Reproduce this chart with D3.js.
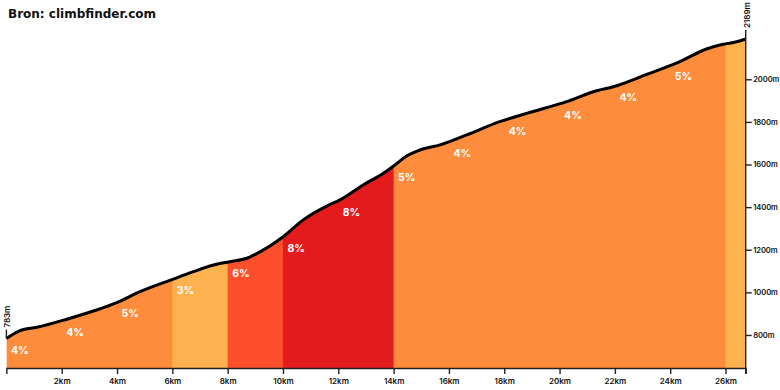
<!DOCTYPE html>
<html>
<head>
<meta charset="utf-8">
<script src="https://cdn.jsdelivr.net/npm/d3@7"></script>
<style>
  body { margin: 0; background: #fff; }
  svg { display: block; }
  .title { font-family: "DejaVu Sans", sans-serif; font-weight: bold; font-size: 12px; fill: #111; }
  .axis text { font-family: Inter, "Open Sans", sans-serif; font-weight: 600; font-size: 8px; fill: #111; }
  .yaxis text { font-size: 7.6px; letter-spacing: -0.1px; }
  .axis path, .axis line { stroke: #222; stroke-width: 1.4px; }
  .grade { font-family: Inter, "Open Sans", sans-serif; font-weight: 700; font-size: 10.5px; fill: #fff; }
  .mark { font-family: Inter, "Open Sans", sans-serif; font-weight: 600; font-size: 8px; fill: #111; }
</style>
</head>
<body>
<div id="chart"></div>
<script>
// elevation profile (km / m)
const distKm = [0, 0.49, 1.10, 2.18, 3.26, 3.99, 4.83, 6.03, 6.76, 7.36, 8.08, 8.69, 9.17,
  10.01, 10.73, 11.58, 12.06, 12.90, 13.63, 14.05, 14.47, 14.95, 15.68, 16.64, 17.84, 18.81,
  20.26, 21.34, 21.94, 23.15, 24.35, 25.31, 25.91, 26.40, 26.73];
const elevM = [783, 820, 836, 874, 917, 952, 1003, 1062, 1097, 1124, 1144, 1160, 1190,
  1261, 1340, 1405, 1434, 1504, 1559, 1598, 1640, 1668, 1692, 1739, 1801, 1840,
  1895, 1946, 1965, 2023, 2083, 2142, 2164, 2176, 2189];

// gradient segments
const segStart = [0, 2, 4, 6, 8, 10, 12, 14, 16, 18, 20, 22, 24, 26];
const segEnd   = [2, 4, 6, 8, 10, 12, 14, 16, 18, 20, 22, 24, 26, 26.73];
const segGrade = [4, 4, 5, 3, 6, 8, 8, 5, 4, 4, 4, 4, 5, 3];

const kmTicks = [2, 4, 6, 8, 10, 12, 14, 16, 18, 20, 22, 24, 26];
const mTicks = [800, 1000, 1200, 1400, 1600, 1800, 2000];

const width = 780, height = 390;
const plotLeft = 6.4, plotRight = 745.7, plotTop = 39, plotBottom = 368;

const svg = d3.select('#chart').append('svg')
  .attr('width', width)
  .attr('height', height);

svg.append('text')
  .attr('class', 'title')
  .attr('x', 8)
  .attr('y', 18)
  .text('Bron: climbfinder.com');

const x = d3.scaleLinear().domain([0, 26.73]).range([plotLeft, plotRight]);
const y = d3.scaleLinear().domain([645, 2189]).range([plotBottom, plotTop]);

const color = d3.scaleThreshold()
  .domain([4, 6, 7])
  .range(['#fdb14f', '#fd8c3c', '#fd4f2c', '#e31b1c']);

const profile = distKm.map((d, i) => ({km: d, m: elevM[i]}));

const area = d3.area()
  .x(d => x(d.km))
  .y0(plotBottom)
  .y1(d => y(d.m))
  .curve(d3.curveMonotoneX);

const line = d3.line()
  .x(d => x(d.km))
  .y(d => y(d.m))
  .curve(d3.curveMonotoneX);

svg.append('clipPath')
  .attr('id', 'profileClip')
  .append('path')
  .attr('d', area(profile));

const segs = segStart.map((s, i) => ({start: s, end: segEnd[i], grade: segGrade[i]}));

// each rect overlaps the next by 1px so same-coloured neighbours show no seam
svg.append('g')
  .attr('clip-path', 'url(#profileClip)')
  .selectAll('rect')
  .data(segs)
  .enter()
  .append('rect')
    .attr('x', d => x(d.start))
    .attr('y', plotTop - 5)
    .attr('width', d => x(d.end) - x(d.start) + 1)
    .attr('height', plotBottom - plotTop + 5)
    .attr('fill', d => color(d.grade));

svg.append('path')
  .attr('d', line(profile))
  .attr('fill', 'none')
  .attr('stroke', '#000')
  .attr('stroke-width', 3)
  .attr('stroke-linejoin', 'round');

// elevation at a given km, for label placement
const elevAt = km => {
  const i = Math.min(d3.bisectRight(distKm, km), distKm.length - 1);
  if (i === 0) return elevM[0];
  const t = (km - distKm[i - 1]) / (distKm[i] - distKm[i - 1]);
  return elevM[i - 1] + t * (elevM[i] - elevM[i - 1]);
};

svg.append('g')
  .selectAll('text')
  .data(segs.filter(d => d.end - d.start >= 1))
  .enter()
  .append('text')
    .attr('class', 'grade')
    .attr('x', d => x(d.start) + 4.5)
    .attr('y', d => y(elevAt(d.start)) + 15)
    .text(d => d.grade + '%');

// x axis
svg.append('g')
  .attr('class', 'axis')
  .attr('transform', `translate(0,${plotBottom})`)
  .call(d3.axisBottom(x).tickValues(kmTicks).tickSize(6).tickSizeOuter(6).tickPadding(4)
    .tickFormat(d => d + 'km'));

// y axis on the right
const yAxis = svg.append('g')
  .attr('class', 'axis yaxis')
  .attr('transform', `translate(${plotRight},0)`)
  .call(d3.axisRight(y).tickValues(mTicks).tickSize(6).tickSizeOuter(0).tickPadding(1.5)
    .tickFormat(d => d + 'm'));
yAxis.select('.domain').attr('d', `M0,${plotTop}V${plotBottom + 6}`);

// start / end markers
const marks = [
  {km: distKm[0], m: elevM[0]},
  {km: distKm[distKm.length - 1], m: elevM[elevM.length - 1]}
];
const mg = svg.append('g').selectAll('g').data(marks).enter().append('g');
mg.append('line')
  .attr('x1', d => x(d.km)).attr('x2', d => x(d.km))
  .attr('y1', d => y(d.m)).attr('y2', d => y(d.m) - 9)
  .attr('stroke', '#222').attr('stroke-width', 1.4);
mg.append('text')
  .attr('class', 'mark')
  .attr('transform', d => `translate(${x(d.km) + 4},${y(d.m) - 11}) rotate(-90)`)
  .text(d => d.m + 'm');
</script>
</body>
</html>
